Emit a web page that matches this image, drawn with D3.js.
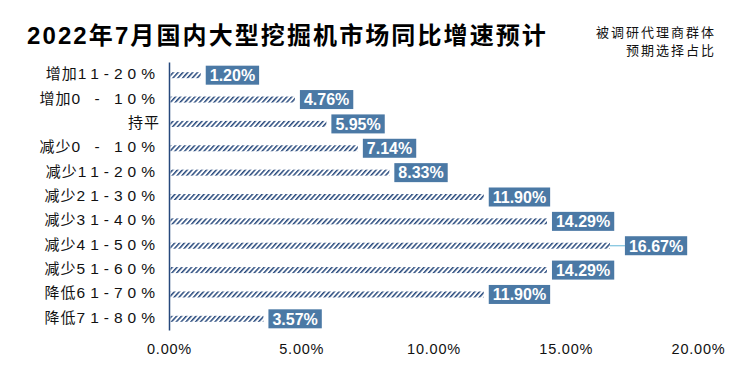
<!DOCTYPE html>
<html>
<head>
<meta charset="utf-8">
<script src="https://cdn.jsdelivr.net/npm/d3@7/dist/d3.min.js"></script>
<style>
  html, body { margin: 0; padding: 0; background: #fff; }
  svg { display: block; font-family: "Liberation Sans", "Noto Sans CJK SC", sans-serif; }
</style>
</head>
<body>
<svg id="chart" width="738" height="369"></svg>
<script>
const titleText = '2022年7月国内大型挖掘机市场同比增速预计'
const noteLines = ['被调研代理商群体', '预期选择占比']

// category label split into CJK prefix and range part
const catPrefix = ['增加', '增加', '持平', '减少', '减少', '减少', '减少', '减少', '减少', '降低', '降低']
const catRange = ['11-20%', '0 - 10%', '', '0 - 10%', '11-20%', '21-30%', '31-40%', '41-50%', '51-60%', '61-70%', '71-80%']
const values = [0.012, 0.0476, 0.0595, 0.0714, 0.0833, 0.119, 0.1429, 0.1667, 0.1429, 0.119, 0.0357]
const xTicks = [0, 0.05, 0.10, 0.15, 0.20]

const categories = catPrefix.map((p, i) => p + catRange[i])

const svg = d3.select('#chart')
const boxColor = '#4b79a5'
const navy = '#26487c'

const x = d3.scaleLinear([0, 0.2], [169, 698])
const y = d3.scaleBand(categories, [62, 330])
const barH = 6

// hatch pattern
const defs = svg.append('defs')
defs.append('pattern')
  .attr('id', 'hatch')
  .attr('patternUnits', 'userSpaceOnUse')
  .attr('width', 3.6)
  .attr('height', 10)
  .attr('patternTransform', 'rotate(42)')
  .append('rect')
  .attr('width', 1.5)
  .attr('height', 10)
  .attr('fill', navy)

// title
svg.append('text')
  .attr('x', 27)
  .attr('y', 44)
  .attr('font-size', 24)
  .attr('font-weight', 'bold')
  .attr('letter-spacing', 2.1)
  .attr('fill', '#000')
  .text(titleText)

svg.append('g')
  .selectAll('text')
  .data(noteLines)
  .join('text')
  .attr('x', 716)
  .attr('y', (d, i) => 37 + i * 18)
  .attr('text-anchor', 'end')
  .attr('font-size', 13)
  .attr('letter-spacing', 2)
  .attr('fill', '#111')
  .text(d => d)

// y axis line
const yAxis = svg.append('g')
  .attr('transform', `translate(${x(0)},0)`)
  .call(d3.axisLeft(y).tickSize(0).tickFormat(''))
yAxis.select('.domain').attr('stroke', navy).attr('stroke-width', 1.5)

// category labels
const labels = svg.append('g')
  .selectAll('text')
  .data(categories)
  .join('text')
  .attr('x', 160)
  .attr('y', d => y(d) + y.bandwidth() / 2 + 5)
  .attr('text-anchor', 'end')
  .attr('font-size', 15)
  .attr('fill', '#111')
labels.append('tspan')
  .attr('letter-spacing', 1)
  .text((d, i) => catPrefix[i])
labels.append('tspan')
  .attr('font-size', 15.5)
  .attr('letter-spacing', 5)
  .text((d, i) => catRange[i])

// bars
svg.append('g')
  .selectAll('rect')
  .data(values)
  .join('rect')
  .attr('x', x(0) + 1.5)
  .attr('y', (d, i) => y(categories[i]) + y.bandwidth() / 2 - barH / 2 + 1)
  .attr('width', d => x(d) - x(0) - 1.5)
  .attr('height', barH)
  .attr('fill', 'url(#hatch)')

// value labels
const maxV = d3.max(values)
const lbl = svg.append('g')
  .selectAll('g')
  .data(values)
  .join('g')
  .attr('transform', (d, i) => {
    const off = d === maxV ? 15 : 5
    return `translate(${x(d) + off},${y(categories[i]) + y.bandwidth() / 2 + 1})`
  })

lbl.filter(d => d === maxV)
  .append('line')
  .attr('x1', -15)
  .attr('x2', 0)
  .attr('stroke', '#7cc3de')
  .attr('stroke-width', 1.2)

lbl.append('rect')
  .attr('y', -9.5)
  .attr('height', 19)
  .attr('fill', boxColor)
const boxText = lbl.append('text')
  .attr('x', 4)
  .attr('y', 5.8)
  .attr('font-size', 16)
  .attr('font-weight', 'bold')
  .attr('fill', '#fff')
  .text(d => d3.format('.2%')(d))
boxText.each(function () {
  const w = this.getComputedTextLength()
  d3.select(this.parentNode).select('rect').attr('width', w + 8)
})

// x axis
const xAxis = svg.append('g')
  .attr('transform', 'translate(0,340)')
  .call(d3.axisBottom(x).tickValues(xTicks).tickFormat(d3.format('.2%')).tickSize(0).tickPadding(4))
xAxis.select('.domain').remove()
xAxis.selectAll('text')
  .attr('font-family', '"Liberation Sans", sans-serif')
  .attr('font-size', 14.5)
  .attr('letter-spacing', 0.8)
  .attr('fill', '#111')
</script>
</body>
</html>
